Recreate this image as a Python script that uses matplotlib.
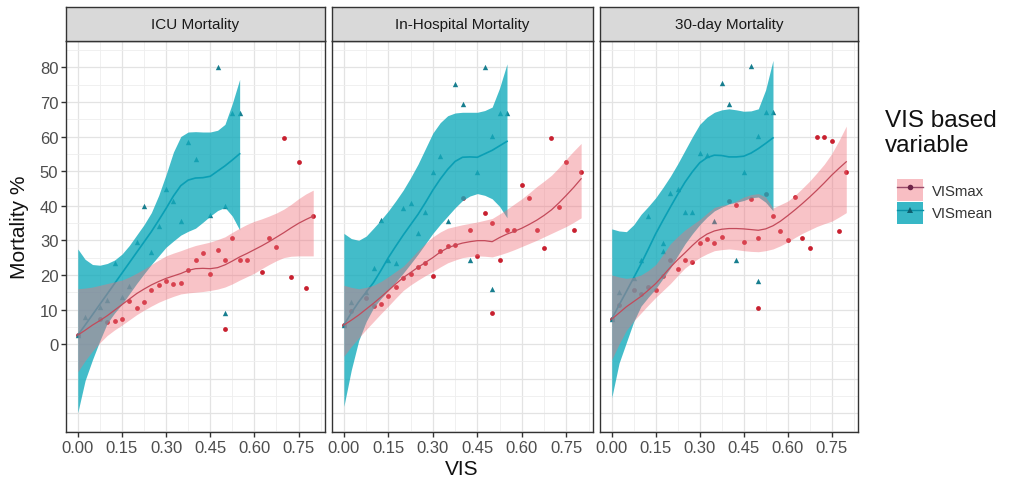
import matplotlib
matplotlib.use("Agg")
import matplotlib.pyplot as plt
import numpy as np
from matplotlib.patches import Patch
from matplotlib.lines import Line2D

plt.rcParams['font.family'] = ['Liberation Sans', 'DejaVu Sans']

panels = ['ICU Mortality', 'In-Hospital Mortality', '30-day Mortality']

# observed points (VIS, mortality %)
icu_max_x = [0, 0.075, 0.1, 0.125, 0.15, 0.175, 0.2, 0.225, 0.25, 0.275, 0.3, 0.325, 0.35, 0.375, 0.4,
             0.425, 0.45, 0.475, 0.5, 0.5, 0.525, 0.55, 0.575, 0.625, 0.65, 0.675, 0.7, 0.725, 0.75, 0.775, 0.8]
icu_max_y = [2.6, 7.2, 6.3, 6.6, 7.2, 12.5, 10.5, 12.3, 15.7, 17.1, 18.1, 17.3, 17.7, 21.4, 24.3,
             26.3, 20.2, 27.1, 24.3, 4.3, 30.7, 24.3, 24.3, 20.7, 30.7, 28.0, 59.7, 19.3, 52.6, 16.1, 36.9]
icu_mean_x = [0, 0.025, 0.075, 0.1, 0.125, 0.15, 0.175, 0.2, 0.225, 0.25, 0.275, 0.3, 0.325, 0.35, 0.375,
              0.4, 0.45, 0.475, 0.5, 0.5, 0.525, 0.55]
icu_mean_y = [2.6, 7.9, 10.6, 12.8, 23.4, 13.7, 16.7, 29.5, 39.9, 26.6, 34.1, 44.9, 41.5, 35.5, 58.3,
              53.6, 37.2, 80.0, 39.9, 8.9, 66.7, 66.7]

hosp_max_x = [0, 0.025, 0.075, 0.1, 0.125, 0.15, 0.175, 0.2, 0.225, 0.25, 0.275, 0.3, 0.325, 0.35, 0.375, 0.4,
              0.425, 0.45, 0.475, 0.5, 0.5, 0.525, 0.55, 0.575, 0.6, 0.625, 0.65, 0.675, 0.7, 0.725, 0.75, 0.775, 0.8]
hosp_max_y = [5.5, 9.7, 13.3, 11.1, 11.7, 14.0, 16.5, 19.2, 20.2, 22.3, 23.4, 19.8, 27.0, 28.4, 28.7, 42.2,
              32.9, 25.5, 37.9, 35.0, 9.0, 24.3, 32.9, 32.9, 45.9, 42.3, 32.9, 27.9, 59.6, 39.5, 52.6, 32.9, 49.6]
hosp_mean_x = [0, 0.025, 0.075, 0.1, 0.125, 0.15, 0.175, 0.2, 0.225, 0.25, 0.275, 0.3, 0.325, 0.35, 0.375,
               0.4, 0.425, 0.45, 0.475, 0.5, 0.5, 0.525, 0.55]
hosp_mean_y = [5.5, 12.1, 15.2, 21.9, 36.0, 24.2, 23.5, 39.3, 40.8, 32.2, 38.2, 49.8, 54.4, 35.5, 75.3,
               69.3, 24.3, 49.8, 80.0, 60.1, 15.9, 66.7, 66.7]

d30_max_x = [0, 0.025, 0.075, 0.1, 0.125, 0.15, 0.175, 0.2, 0.225, 0.25, 0.275, 0.3, 0.325, 0.35, 0.375, 0.4,
             0.425, 0.45, 0.475, 0.5, 0.5, 0.525, 0.55, 0.575, 0.6, 0.625, 0.65, 0.675, 0.7, 0.725, 0.75, 0.775, 0.8]
d30_max_y = [7.2, 11.3, 15.7, 14.5, 16.4, 15.7, 19.6, 24.4, 21.7, 24.4, 23.7, 29.3, 30.4, 29.3, 31.0, 41.4,
             40.1, 29.5, 42.0, 30.6, 10.5, 43.5, 36.9, 32.8, 30.0, 42.4, 30.6, 27.9, 59.8, 59.8, 58.6, 32.8, 49.8]
d30_mean_x = [0, 0.025, 0.075, 0.1, 0.125, 0.175, 0.175, 0.2, 0.225, 0.25, 0.275, 0.3, 0.325, 0.35, 0.375,
              0.4, 0.425, 0.45, 0.475, 0.5, 0.5, 0.525, 0.55]
d30_mean_y = [7.2, 15.2, 19.0, 24.4, 36.9, 29.3, 26.9, 43.7, 44.7, 38.2, 38.2, 55.1, 54.6, 35.5, 75.6,
              69.3, 24.3, 49.8, 80.4, 60.1, 18.3, 67.0, 67.0]

# smoothed fits and confidence bands, every 0.025
fit_max_x = [0, 0.025, 0.05, 0.075, 0.1, 0.125, 0.15, 0.175, 0.2, 0.225, 0.25, 0.275, 0.3, 0.325, 0.35, 0.375,
             0.4, 0.425, 0.45, 0.475, 0.5, 0.525, 0.55, 0.575, 0.6, 0.625, 0.65, 0.675, 0.7, 0.725, 0.75, 0.775, 0.8]
fit_mean_x = [0, 0.025, 0.05, 0.075, 0.1, 0.125, 0.15, 0.175, 0.2, 0.225, 0.25, 0.275, 0.3, 0.325, 0.35, 0.375,
              0.4, 0.425, 0.45, 0.475, 0.5, 0.525, 0.55]

icu_max_fit = [2.6, 4.0, 5.5, 6.8, 8.2, 9.8, 11.4, 13.0, 14.6, 15.9, 17.1, 18.1, 19.0, 19.7, 20.4, 21.3,
               21.8, 21.9, 21.8, 22.1, 22.9, 24.0, 25.2, 26.2, 27.3, 28.4, 29.6, 30.9, 32.2, 33.6, 34.9, 36.0, 37.0]
icu_max_lo = [-8, -4.8, -2, 0.4, 2.5, 4.1, 5.5, 7, 8.5, 9.8, 11, 12.1, 13, 13.8, 14.5, 14.8,
              15, 15.2, 15.5, 15.9, 16.5, 17.4, 18.5, 19.5, 20.5, 21.8, 23, 24.1, 25, 25.4, 25.5, 25.5, 25.5]
icu_max_hi = [16, 16.2, 16.5, 17, 17.5, 18, 18.5, 19.4, 20.5, 21.7, 23, 24.3, 25.5, 26.3, 27, 27.8,
              28.5, 29, 29.5, 30.2, 31, 32.3, 33.5, 34.6, 35.5, 36.2, 37, 37.9, 39, 40.4, 42, 43.4, 44.5]
icu_mean_fit = [2.6, 5.5, 8.5, 11.5, 14.5, 17.5, 20.5, 23.5, 26.5, 29.5, 32.5, 35.8, 39.2, 42.8, 45.8, 47.4,
                48, 48.1, 48.5, 50, 51.5, 53.2, 55]
icu_mean_lo = [-19.8, -10.5, -4.5, 1, 6, 9, 11.5, 14.5, 17.5, 20.3, 23, 25.5, 28, 29.8, 31.5, 32.6,
               33.5, 35.2, 37, 38.6, 39.5, 37, 33]
icu_mean_hi = [27.5, 24.5, 23, 22.8, 23.3, 24.3, 26, 28.5, 31.5, 34.5, 38, 43, 49, 55.5, 60, 61.3,
               61.4, 61.3, 61.3, 61.8, 63.5, 69.5, 76.5]

hosp_max_fit = [5.5, 6.9, 8.4, 10.1, 11.8, 13.6, 15.5, 17.4, 19.2, 20.7, 22.2, 23.6, 25, 26.6, 27.8, 28.6,
                29.2, 29.6, 29.9, 29.9, 29.6, 30.8, 31.8, 32.6, 33.5, 34.6, 35.8, 37.2, 38.8, 40.8, 43, 45.3, 47.8]
hosp_max_lo = [-3.5, -0.7, 1.8, 4.2, 6.5, 8.8, 11, 13.3, 15.5, 17.1, 18.5, 19.8, 21, 22.3, 23.5, 24.3,
               25, 25.3, 25.5, 25.4, 25.2, 25.8, 26.5, 27.3, 28.2, 29.1, 30, 31, 32, 33, 34, 35.2, 36.5]
hosp_max_hi = [17, 16.4, 16, 16.4, 17, 18.1, 19.5, 21, 22.5, 24.7, 27, 29.1, 31, 32.4, 33.5, 34,
               34.5, 34.9, 35.3, 35.8, 36.3, 37.6, 39, 40.5, 42, 43.7, 45.5, 47.1, 48.8, 51, 53.5, 55.8, 58]
hosp_mean_fit = [5.5, 9, 12.2, 15, 17.8, 21.3, 25, 28.3, 31.5, 34.5, 37.5, 40.9, 44.5, 47.7, 50.5, 52.8,
                 54, 54.1, 54, 55, 56, 57.3, 58.6]
hosp_mean_lo = [-18, -7.5, 1, 6.5, 10.5, 13.2, 15.5, 18, 20.5, 23.2, 26, 29, 32, 34.6, 37, 39.4,
                41.5, 42.8, 43.5, 43, 42, 39.8, 36.5]
hosp_mean_hi = [32, 30.5, 30, 31.2, 33.5, 35.9, 38.5, 41.4, 44.5, 48.1, 52, 56.5, 61, 64, 66, 66.8,
                67, 67, 67, 67.5, 68.5, 74, 81]

d30_max_fit = [7.2, 9, 10.8, 12.3, 13.8, 15.6, 17.5, 19.8, 22.2, 24.4, 26.4, 28.5, 30.4, 31.8, 32.7, 33.2,
               33.4, 33.4, 33.3, 33.1, 32.9, 33.3, 34.2, 35.5, 37.1, 38.8, 40.6, 42.5, 44.5, 46.6, 48.8, 50.8, 52.7]
d30_max_lo = [-4.5, 0, 4, 6.7, 9, 11.3, 13.5, 15.5, 17.5, 19.8, 22, 23.6, 25, 26.1, 27, 27.3,
              27.5, 27.3, 27, 26.8, 26.7, 27, 27.5, 28.4, 29.5, 30.8, 32, 33, 34, 34.8, 35.5, 36.7, 38]
d30_max_hi = [20, 19.4, 19, 19.3, 20, 21.3, 23, 25.9, 29, 31.1, 33, 34.5, 36, 37.8, 39.5, 40.1,
              40.5, 41.4, 42.5, 43.2, 43.5, 42.5, 39.3, 40.3, 41.3, 43, 45, 47.1, 49.5, 52, 55, 58.8, 63]
d30_mean_fit = [7.2, 11.3, 15.2, 19.2, 23.2, 27.5, 31.9, 35.8, 39.6, 43.3, 46.8, 49.8, 52.4, 53.9, 54.6, 54.5,
                54.1, 54.1, 54.3, 55.2, 56.5, 58, 59.6]
d30_mean_lo = [-15.5, -5.5, 0.5, 6.5, 11, 13.6, 16, 19, 22, 25.6, 29, 31.9, 34.5, 36.7, 38.5, 39.6,
               40.5, 41, 41.5, 42.3, 42.5, 41, 38.5]
d30_mean_hi = [33.3, 32.7, 32.5, 34.5, 37.5, 39.8, 42.3, 45.3, 48.5, 52.1, 56, 59.9, 63.5, 65.6, 67, 67.7,
               68, 67.7, 67.3, 67.4, 68, 73.5, 82]

y_ticks = [0, 10, 20, 30, 40, 50, 60, 70, 80]
x_ticks = [0.0, 0.15, 0.30, 0.45, 0.60, 0.75]

pts = [
    (icu_max_x, icu_max_y, icu_mean_x, icu_mean_y),
    (hosp_max_x, hosp_max_y, hosp_mean_x, hosp_mean_y),
    (d30_max_x, d30_max_y, d30_mean_x, d30_mean_y),
]
fits = [
    (icu_max_fit, icu_max_lo, icu_max_hi, icu_mean_fit, icu_mean_lo, icu_mean_hi),
    (hosp_max_fit, hosp_max_lo, hosp_max_hi, hosp_mean_fit, hosp_mean_lo, hosp_mean_hi),
    (d30_max_fit, d30_max_lo, d30_max_hi, d30_mean_fit, d30_mean_lo, d30_mean_hi),
]

red_pt = '#C8202F'
teal_pt = '#177E8F'
red_line = '#C34A5A'
teal_line = '#0A9FB5'
pink_fill = '#F0707A'
teal_fill = '#14ABBC'

W, H = 1014, 485
fig = plt.figure(figsize=(W / 100, H / 100), dpi=100)

lefts = [66, 332, 600]
widths = [259, 261, 258]
top, bottom = 42, 433

for i, name in enumerate(panels):
    ax = fig.add_axes([lefts[i] / W, 1 - bottom / H, widths[i] / W, (bottom - top) / H])
    ax.set_xlim(-0.04, 0.84)
    ax.set_ylim(-25.4, 87.6)

    # grid
    for gx in np.arange(0, 0.85, 0.075):
        major = abs((gx / 0.15) - round(gx / 0.15)) < 1e-6
        ax.axvline(gx, color='#E3E3E3' if major else '#EEEEEE', lw=0.9 if major else 0.6, zorder=0)
    for gy in range(-25, 90, 5):
        major = gy % 10 == 0
        ax.axhline(gy, color='#E3E3E3' if major else '#EEEEEE', lw=0.9 if major else 0.6, zorder=0)

    mx, my, nx, ny = pts[i]
    ax.scatter(mx, my, s=12, color=red_pt, marker='o', linewidths=0, zorder=2)
    ax.scatter(nx, ny, s=15, color=teal_pt, marker='^', linewidths=0, zorder=2)

    f_m, lo_m, hi_m, f_n, lo_n, hi_n = fits[i]
    ax.fill_between(fit_mean_x, lo_n, hi_n, color=teal_fill, alpha=0.8, lw=0, zorder=3)
    ax.plot(fit_mean_x, f_n, color=teal_line, lw=1.2, zorder=3.5, solid_joinstyle='round')
    ax.fill_between(fit_max_x, lo_m, hi_m, color=pink_fill, alpha=0.42, lw=0, zorder=4)
    ax.plot(fit_max_x, f_m, color=red_line, lw=0.9, zorder=5, solid_joinstyle='round')

    ax.set_xticks(x_ticks)
    ax.set_xticklabels([f'{t:.2f}' for t in x_ticks])
    ax.tick_params(axis='x', length=3.5, width=1, color='#333333', labelsize=12,
                   labelcolor='#4D4D4D', pad=2)
    if i == 0:
        ax.set_yticks(y_ticks)
        ax.tick_params(axis='y', length=3.5, width=1, color='#333333', labelsize=12,
                       labelcolor='#4D4D4D', pad=2)
    else:
        ax.set_yticks([])
    for s in ax.spines.values():
        s.set_color('#333333')
        s.set_linewidth(1.0)

    # facet strip
    sax = fig.add_axes([lefts[i] / W, 1 - top / H, widths[i] / W, (top - 8) / H])
    sax.set_xticks([])
    sax.set_yticks([])
    sax.set_facecolor('#D9D9D9')
    for s in sax.spines.values():
        s.set_color('#333333')
        s.set_linewidth(1.0)
    sax.text(0.5, 0.5, name, ha='center', va='center', fontsize=11, color='#1A1A1A',
             transform=sax.transAxes)

fig.text(19.5 / W, 1 - 227 / H, 'Mortality %', rotation=90, ha='center', va='center',
         fontsize=15, color='#111111')
fig.text(462 / W, 1 - 470 / H, 'VIS', ha='center', va='center', fontsize=15, color='#111111')

# legend
fig.text(885 / W, 1 - 110 / H, 'VIS based\nvariable', ha='left', va='top', fontsize=17.5,
         color='#111111', linespacing=1.15)
h_max = (Patch(facecolor=pink_fill, alpha=0.45, lw=0),
         Line2D([], [], color='#9A4A6A', lw=1, marker='o', markersize=4, markerfacecolor='#6E2448',
                markeredgewidth=0))
h_mean = (Patch(facecolor=teal_fill, alpha=0.85, lw=0),
          Line2D([], [], color='#0A8FA5', lw=1, marker='^', markersize=4.5, markerfacecolor='#0D5F70',
                 markeredgewidth=0))
fig.legend([h_max, h_mean], ['VISmax', 'VISmean'], loc='upper left',
           bbox_to_anchor=(897 / W, 1 - 180 / H), frameon=False, fontsize=10.7,
           handlelength=1.75, handleheight=1.9, labelspacing=0.05, handletextpad=0.6,
           borderpad=0, borderaxespad=0, labelcolor='#333333')

fig.savefig('out.png', dpi=100)
